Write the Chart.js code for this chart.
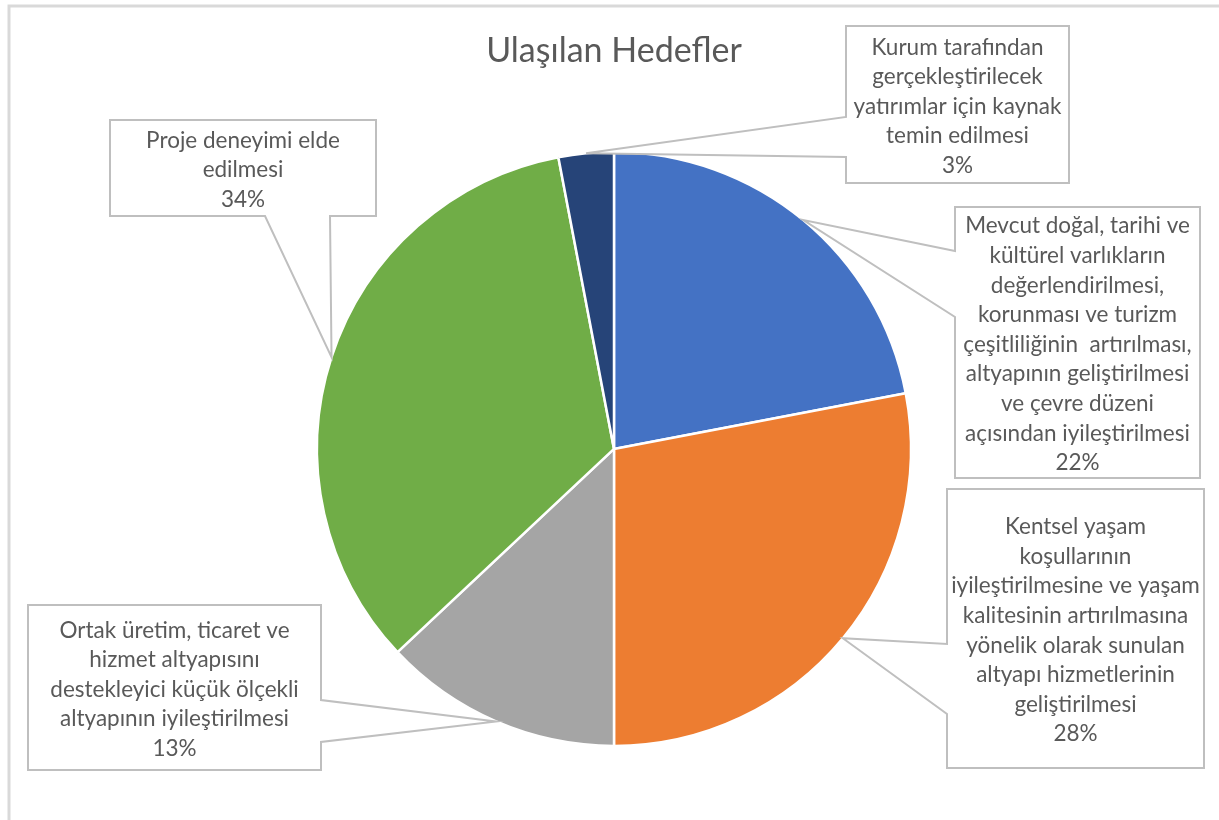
<!DOCTYPE html>
<html>
<head>
<meta charset="utf-8">
<script src="https://cdn.jsdelivr.net/npm/chart.js@4/dist/chart.umd.min.js"></script>
<style>
body { margin: 0; background: #fff; }
#wrap { position: relative; width: 1219px; height: 820px; }
</style>
</head>
<body>
<div id="wrap"><canvas id="piechart" width="1219" height="820"></canvas></div>
<script>
var chartTitle = 'Ulaşılan Hedefler';
var categories = [
    ['Mevcut doğal, tarihi ve', 'kültürel varlıkların', 'değerlendirilmesi,', 'korunması ve turizm', 'çeşitliliğinin  artırılması,', 'altyapının geliştirilmesi', 've çevre düzeni', 'açısından iyileştirilmesi'],
    ['Kentsel yaşam', 'koşullarının', 'iyileştirilmesine ve yaşam', 'kalitesinin artırılmasına', 'yönelik olarak sunulan', 'altyapı hizmetlerinin', 'geliştirilmesi'],
    ['Ortak üretim, ticaret ve', 'hizmet altyapısını', 'destekleyici küçük ölçekli', 'altyapının iyileştirilmesi'],
    ['Proje deneyimi elde', 'edilmesi'],
    ['Kurum tarafından', 'gerçekleştirilecek', 'yatırımlar için kaynak', 'temin edilmesi']
];
var values = [22, 28, 13, 34, 3];
var colors = ['#4472C4', '#ED7D31', '#A5A5A5', '#70AD47', '#264478'];

// callout boxes (same order as categories); a/b = where the pointer leaves the box side
var boxes = [
    {x: 955, y: 207, w: 245, h: 271, side: 'left', a: 251, b: 317},
    {x: 947, y: 489, w: 257, h: 279, side: 'left', a: 644, b: 714},
    {x: 28, y: 605, w: 293, h: 165, side: 'right', a: 700, b: 742},
    {x: 110, y: 120, w: 266, h: 96, side: 'bottom', a: 265, b: 330},
    {x: 846, y: 26, w: 223, h: 157, side: 'left', a: 117, b: 157}
];

var textColor = '#595959';
var boxLine = '#BFBFBF';

var calloutPlugin = {
    id: 'callouts',
    beforeDraw: function(chart) {
        var ctx = chart.ctx;
        ctx.save();
        // outer frame
        ctx.strokeStyle = '#D9D9D9';
        ctx.lineWidth = 3;
        ctx.beginPath();
        ctx.moveTo(9, 820);
        ctx.lineTo(9, 6);
        ctx.lineTo(1219, 6);
        ctx.stroke();
        ctx.restore();
    },
    afterDraw: function(chart) {
        var ctx = chart.ctx;
        var meta = chart.getDatasetMeta(0);
        var total = values.reduce(function(s, v) { return s + v; }, 0);
        ctx.save();
        boxes.forEach(function(bx, i) {
            var arc = meta.data[i];
            var mid = (arc.startAngle + arc.endAngle) / 2;
            var tx = arc.x + Math.cos(mid) * arc.outerRadius;
            var ty = arc.y + Math.sin(mid) * arc.outerRadius;
            var x = bx.x, y = bx.y, w = bx.w, h = bx.h;

            ctx.fillStyle = '#fff';
            ctx.fillRect(x, y, w, h);

            ctx.beginPath();
            if (bx.side === 'left') {
                ctx.moveTo(x, bx.b);
                ctx.lineTo(x, y + h);
                ctx.lineTo(x + w, y + h);
                ctx.lineTo(x + w, y);
                ctx.lineTo(x, y);
                ctx.lineTo(x, bx.a);
            } else if (bx.side === 'right') {
                ctx.moveTo(x + w, bx.a);
                ctx.lineTo(x + w, y);
                ctx.lineTo(x, y);
                ctx.lineTo(x, y + h);
                ctx.lineTo(x + w, y + h);
                ctx.lineTo(x + w, bx.b);
            } else {
                ctx.moveTo(bx.a, y + h);
                ctx.lineTo(x, y + h);
                ctx.lineTo(x, y);
                ctx.lineTo(x + w, y);
                ctx.lineTo(x + w, y + h);
                ctx.lineTo(bx.b, y + h);
            }
            ctx.lineTo(tx, ty);
            ctx.closePath();
            ctx.strokeStyle = boxLine;
            ctx.lineWidth = 2;
            ctx.lineJoin = 'miter';
            ctx.stroke();

            var lines = categories[i].concat([Math.round(values[i] / total * 100) + '%']);
            var lh = 29.6;
            var cy = y + h / 2 + 2 - (lines.length - 1) * lh / 2;
            ctx.fillStyle = textColor;
            ctx.font = '22.5px Lato';
            ctx.textAlign = 'center';
            ctx.textBaseline = 'middle';
            lines.forEach(function(t, k) {
                ctx.fillText(t, x + w / 2, cy + k * lh);
            });
        });
        ctx.restore();
    }
};

var ctxpie = document.getElementById('piechart');
var piechart = new Chart(ctxpie, {
    type: 'pie',
    data: {
        labels: categories,
        datasets: [{
            data: values,
            backgroundColor: colors,
            borderColor: '#ffffff',
            borderWidth: 2.5,
            radius: 297
        }]
    },
    options: {
        responsive: false,
        animation: false,
        layout: {
            padding: { left: 318, right: 309, top: 0, bottom: 75 }
        },
        plugins: {
            legend: { display: false },
            tooltip: { enabled: false },
            title: {
                display: true,
                text: chartTitle,
                color: textColor,
                font: { family: 'Lato', size: 34, weight: 'normal' },
                padding: { top: 31, bottom: 81 }
            }
        }
    },
    plugins: [calloutPlugin]
});
</script>
</body>
</html>
